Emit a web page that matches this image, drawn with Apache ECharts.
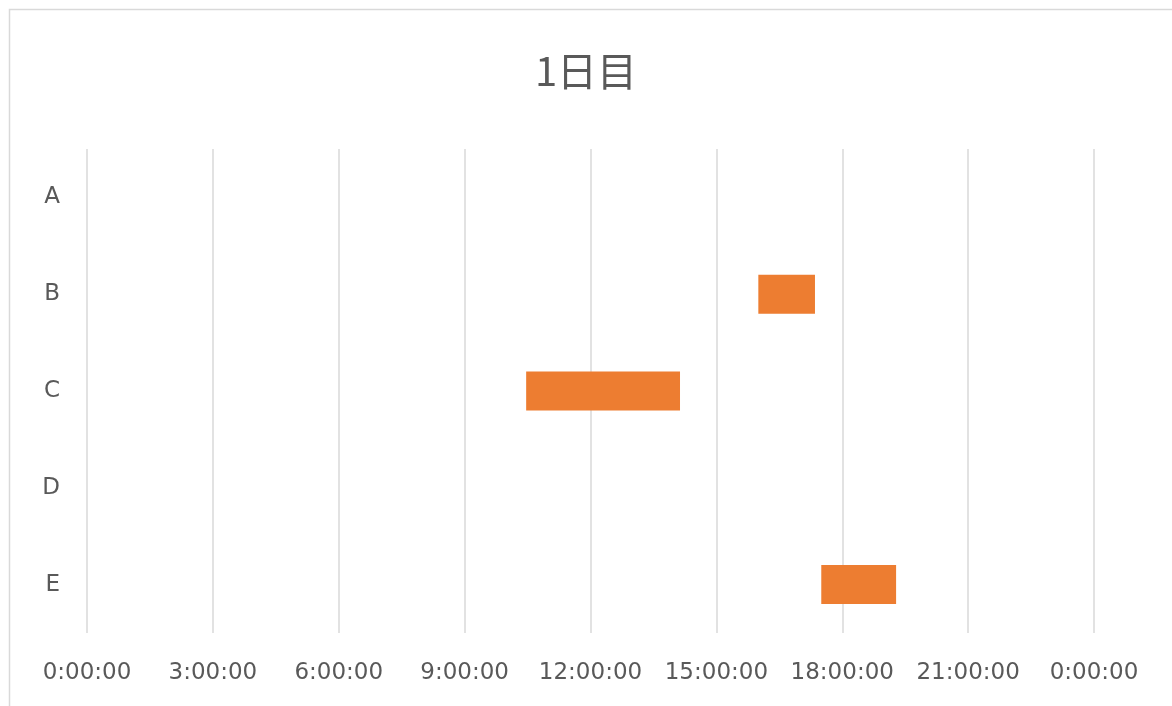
<!DOCTYPE html>
<html>
<head>
<meta charset="utf-8">
<style>
html,body{margin:0;padding:0;background:#fff;}
#chart{width:1172px;height:706px;}
</style>
<script src="https://cdn.jsdelivr.net/npm/echarts@6/dist/echarts.min.js"></script>
</head>
<body>
<div id="chart"></div>
<script>
const titleText = '1日目';
const categories = ['A', 'B', 'C', 'D', 'E'];
const startTimes = [null, '16:00', '10:28', null, '17:30'];
const endTimes = [null, '17:21', '14:08', null, '19:17'];
const axisMin = 0, axisMax = 24, axisStep = 3;

function toHours(t) {
  if (t === null) return null;
  const p = t.split(':');
  return Number(p[0]) + Number(p[1]) / 60;
}
const startHours = startTimes.map(toHours);
const durationHours = endTimes.map((t, i) => t === null ? null : toHours(t) - startHours[i]);

const chart = echarts.init(document.getElementById('chart'));
const labelFont = 'DejaVu Sans';
chart.setOption({
  animation: false,
  backgroundColor: '#ffffff',
  graphic: [{
    type: 'rect', left: 7, top: 7, silent: true,
    shape: { width: 1300, height: 800 },
    style: { fill: 'none', stroke: '#d9d9d9', lineWidth: 1.5 }
  }],
  title: {
    text: titleText, left: 'center', top: 46,
    textStyle: { color: '#595959', fontSize: 40, fontWeight: 'normal', fontFamily: 'Noto Sans CJK JP' }
  },
  grid: { left: 87, right: 78, top: 149, bottom: 73, containLabel: false },
  xAxis: {
    type: 'value', min: axisMin, max: axisMax, interval: axisStep,
    axisLine: { show: false }, axisTick: { show: false },
    splitLine: { show: true, lineStyle: { color: '#d9d9d9', width: 1.5 } },
    axisLabel: {
      color: '#595959', fontSize: 23, fontFamily: labelFont, margin: 29,
      formatter: v => (v % 24) + ':00:00'
    }
  },
  yAxis: {
    type: 'category', data: categories, inverse: true,
    axisLine: { show: false }, axisTick: { show: false },
    splitLine: { show: false },
    axisLabel: { color: '#595959', fontSize: 23, fontFamily: labelFont, margin: 27 }
  },
  series: [
    {
      type: 'bar', stack: 'g', data: startHours, barWidth: 39,
      itemStyle: { color: 'transparent' }, silent: true
    },
    {
      type: 'bar', stack: 'g', data: durationHours, barWidth: 39,
      itemStyle: { color: '#ed7d31' }
    }
  ]
});
</script>
</body>
</html>
